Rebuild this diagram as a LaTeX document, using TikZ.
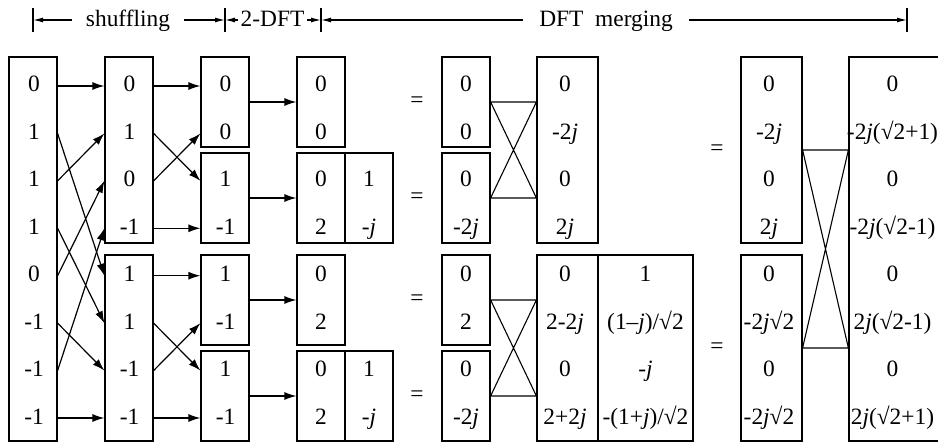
\documentclass[tikz,border=0pt]{standalone}
\usepackage{fontspec}
\setmainfont{Liberation Serif}
\usetikzlibrary{arrows.meta}

\begin{document}
\begin{tikzpicture}[x=0.5pt, y=-0.5pt,
  font=\fontsize{11.7}{14}\selectfont,
  line width=0.6pt,
  vec/.style  ={rectangle, draw, minimum width=24pt, inner sep=0pt},
  quad/.style ={vec, minimum height=45pt},
  half/.style ={vec, minimum height=93pt},
  full/.style ={vec, minimum height=192pt},
  val/.style  ={anchor=base, inner sep=0pt},
  lab/.style  ={anchor=base, inner ysep=0pt},
  flow/.style ={-{Latex[length=6pt,width=4pt]}},
  dim/.style  ={-{Latex[length=5pt,width=2.5pt]}},
  cross/.style={line width=0.55pt},
]
\clip (0,0) rectangle (938,442);

% === Rows ===
\foreach \i in {0,...,7}
  \coordinate (r\i) at (0,{86+47.43*\i});

% === Stage header ===
\coordinate (t0) at (33,20);
\coordinate (t1) at (225,20);
\coordinate (t2) at (321,20);
\coordinate (t3) at (907,20);
\foreach \t in {t0,t1,t2,t3}
  \draw (\t) ++(0,-12) -- ++(0,24);

\node[lab, inner xsep=6.5pt] (shuf) at (128,27) {shuffling};
\node[lab, inner xsep=1pt]   (dft2) at (272.5,27) {2-DFT};
\node[lab, inner xsep=8pt]   (merg) at (606,27) {DFT~~merging};

\draw[dim] (shuf.west |- t0) -- (t0);
\draw[dim] (shuf.east |- t0) -- (t1);
\draw[dim] (dft2.west |- t0) -- (t1);
\draw[dim] (dft2.east |- t0) -- (t2);
\draw[dim] (merg.west |- t0) -- (t2);
\draw[dim] (merg.east |- t0) -- (t3);

% === Boxes ===
\node[full] (A)  at (33,249)  {};
\node[half] (B1) at (129,150) {};
\node[half] (B2) at (129,348) {};
\node[quad] (C1) at (225,102) {};
\node[quad] (C2) at (225,198) {};
\node[quad] (C3) at (225,300) {};
\node[quad] (C4) at (225,396) {};
\node[quad] (D1) at (321,102) {};
\node[quad] (D2) at (321,198) {};
\node[quad] (D3) at (321,300) {};
\node[quad] (D4) at (321,396) {};
\node[quad] (E2) at (369,198) {};
\node[quad] (E4) at (369,396) {};
\node[quad] (F1) at (466,102) {};
\node[quad] (F2) at (466,198) {};
\node[quad] (F3) at (466,300) {};
\node[quad] (F4) at (466,396) {};
\node[half, minimum width=30.5pt] (G1) at (567.5,150) {};
\node[half, minimum width=30.5pt] (G2) at (567.5,348) {};
\node[half, minimum width=47.5pt] (H2) at (645.5,348) {};
\node[half, minimum width=30.5pt] (K1) at (771.5,150) {};
\node[half, minimum width=30.5pt] (K2) at (771.5,348) {};
\node[full, minimum width=45.5pt] (L)  at (894.5,249) {};

% === Values ===
\foreach \v [count=\i from 0] in {0,1,1,1,0,-1,-1,-1}
  \node[val] (a\i) at (34,{92+47.43*\i}) {\v};
\foreach \v [count=\i from 0] in {0,1,0,-1,1,1,-1,-1}
  \node[val] (b\i) at (129.5,{92+47.43*\i}) {\v};
\foreach \v [count=\i from 0] in {0,0,1,-1,1,-1,1,-1}
  \node[val] (c\i) at (225.5,{92+47.43*\i}) {\v};
\foreach \v [count=\i from 0] in {0,0,0,2,0,2,0,2}
  \node[val] (d\i) at (321,{92+47.43*\i}) {\v};
\node[val] (e2) at (369,{92+47.43*2}) {1};
\node[val] (e3) at (369,{92+47.43*3}) {-\textit{j}};
\node[val] (e6) at (369,{92+47.43*6}) {1};
\node[val] (e7) at (369,{92+47.43*7}) {-\textit{j}};
\foreach \v [count=\i from 0] in {0,0,0,{-2\textit{j}},0,2,0,{-2\textit{j}}}
  \node[val] (f\i) at (466,{92+47.43*\i}) {\v};
\foreach \v [count=\i from 0] in {0,{-2\textit{j}},0,{2\textit{j}},0,{2-2\textit{j}},0,{2+2\textit{j}}}
  \node[val] (g\i) at (565,{92+47.43*\i}) {\v};
\foreach \v [count=\i from 4] in {1,{(1–\textit{j})/√2},{-\textit{j}},{-(1+\textit{j})/√2}}
  \node[val] (h\i) at (645.5,{92+47.43*\i}) {\v};
\foreach \v [count=\i from 0] in {0,{-2\textit{j}},0,{2\textit{j}},0,{-2\textit{j}√2},0,{-2\textit{j}√2}}
  \node[val] (k\i) at (769,{92+47.43*\i}) {\v};
\foreach \v [count=\i from 0] in {0,{-2\textit{j}(√2+1)},0,{-2\textit{j}(√2-1)},0,{2\textit{j}(√2-1)},0,{2\textit{j}(√2+1)}}
  \node[val] (l\i) at (892.5,{92+47.43*\i}) {\v};

% === Equal signs ===
\node (eq1) at (417,102) {=};
\node (eq2) at (417,198) {=};
\node (eq3) at (417,300) {=};
\node (eq4) at (417,396) {=};
\node (eq5) at (717,150) {=};
\node (eq6) at (717,348) {=};

% === Shuffling ===
\foreach \s/\t in {0/0,2/1,4/2,6/3,1/4,3/5,5/6,7/7}
  \draw[flow] (A.east |- r\s) -- (B1.west |- r\t);

% === 2-point DFT ===
\foreach \s/\t in {0/0,2/1,1/2,3/3,4/4,6/5,5/6,7/7}
  \draw[flow] (B1.east |- r\s) -- (C1.west |- r\t);
\draw[flow] (C1.east) -- (D1.west);
\draw[flow] (C2.east) -- (D2.west);
\draw[flow] (C3.east) -- (D3.west);
\draw[flow] (C4.east) -- (D4.west);

% === Butterflies ===
\draw[cross] (F1.east) -- (G1.west |- F1.east) (F2.east) -- (G1.west |- F2.east)
             (F1.east) -- (G1.west |- F2.east) (F2.east) -- (G1.west |- F1.east);
\draw[cross] (F3.east) -- (G2.west |- F3.east) (F4.east) -- (G2.west |- F4.east)
             (F3.east) -- (G2.west |- F4.east) (F4.east) -- (G2.west |- F3.east);
\draw[cross] (K1.east) -- (L.west |- K1.east)
             (K2.east) -- (L.west |- K2.east)
             (K1.east) -- (L.west |- K2.east)
             (K2.east) -- (L.west |- K1.east);

\end{tikzpicture}
\end{document}
